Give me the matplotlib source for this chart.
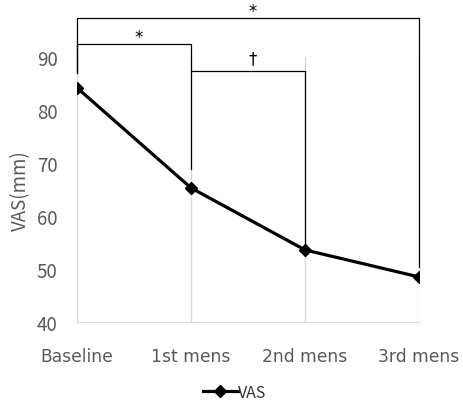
import numpy as np
import matplotlib.pyplot as plt

categories = ['Baseline', '1st mens', '2nd mens', '3rd mens']
vas = [84.2, 65.3, 53.6, 48.5]
yticks = [40, 50, 60, 70, 80, 90]

# significance brackets: (start idx, end idx, top y, left leg bottom, right leg bottom, label)
brackets = [
    (0, 3, 97.4, 87.0, 50.4, '*'),
    (0, 1, 92.5, 87.0, 68.9, '*'),
    (1, 2, 87.4, 87.4, 54.3, '\u2020'),
]

plt.rcParams['font.family'] = ['Noto Sans CJK KR', 'DejaVu Sans']
gray = '#595959'

fig = plt.figure(figsize=(4.63, 4.02), dpi=100)
ax = fig.add_axes([0.1663, 0.1965, 0.7387, 0.6592])

x = np.arange(len(categories))
ax.plot(x, vas, color='black', lw=2.3, marker='D', markersize=6, label='VAS', zorder=3)

ax.set_xlim(0, 3)
ax.set_ylim(40, 90)
ax.set_yticks(yticks)
ax.set_xticks(x)
ax.set_xticklabels(categories, fontfamily='DejaVu Sans', fontsize=12.3)
ax.tick_params(length=0, colors=gray)
ax.tick_params(axis='y', labelsize=13.5, pad=14)
ax.tick_params(axis='x', pad=18)
ax.grid(axis='x', color='#d9d9d9', lw=1)
for s in ['top', 'right', 'left']:
    ax.spines[s].set_visible(False)
ax.spines['bottom'].set_color('#d9d9d9')
ax.set_ylabel('VAS(mm)', fontsize=13.5, color=gray, labelpad=4)

for i0, i1, top, lb, rb, txt in brackets:
    ax.plot([x[i0], x[i0], x[i1], x[i1]], [lb, top, top, rb], color='black', lw=0.9,
            clip_on=False, zorder=2)
    off = 2.4 if txt == '\u2020' else 1.3
    ax.text((x[i0] + x[i1]) / 2 + 0.045, top + off, txt, ha='center', va='center',
            fontsize=12, fontfamily='DejaVu Sans', color='black')

ax.legend(loc='upper center', bbox_to_anchor=(0.46, -0.18), frameon=False, fontsize=11.5,
          handlelength=2.2, handletextpad=0.0, labelcolor='#333333')

fig.savefig('out.png', dpi=100)
